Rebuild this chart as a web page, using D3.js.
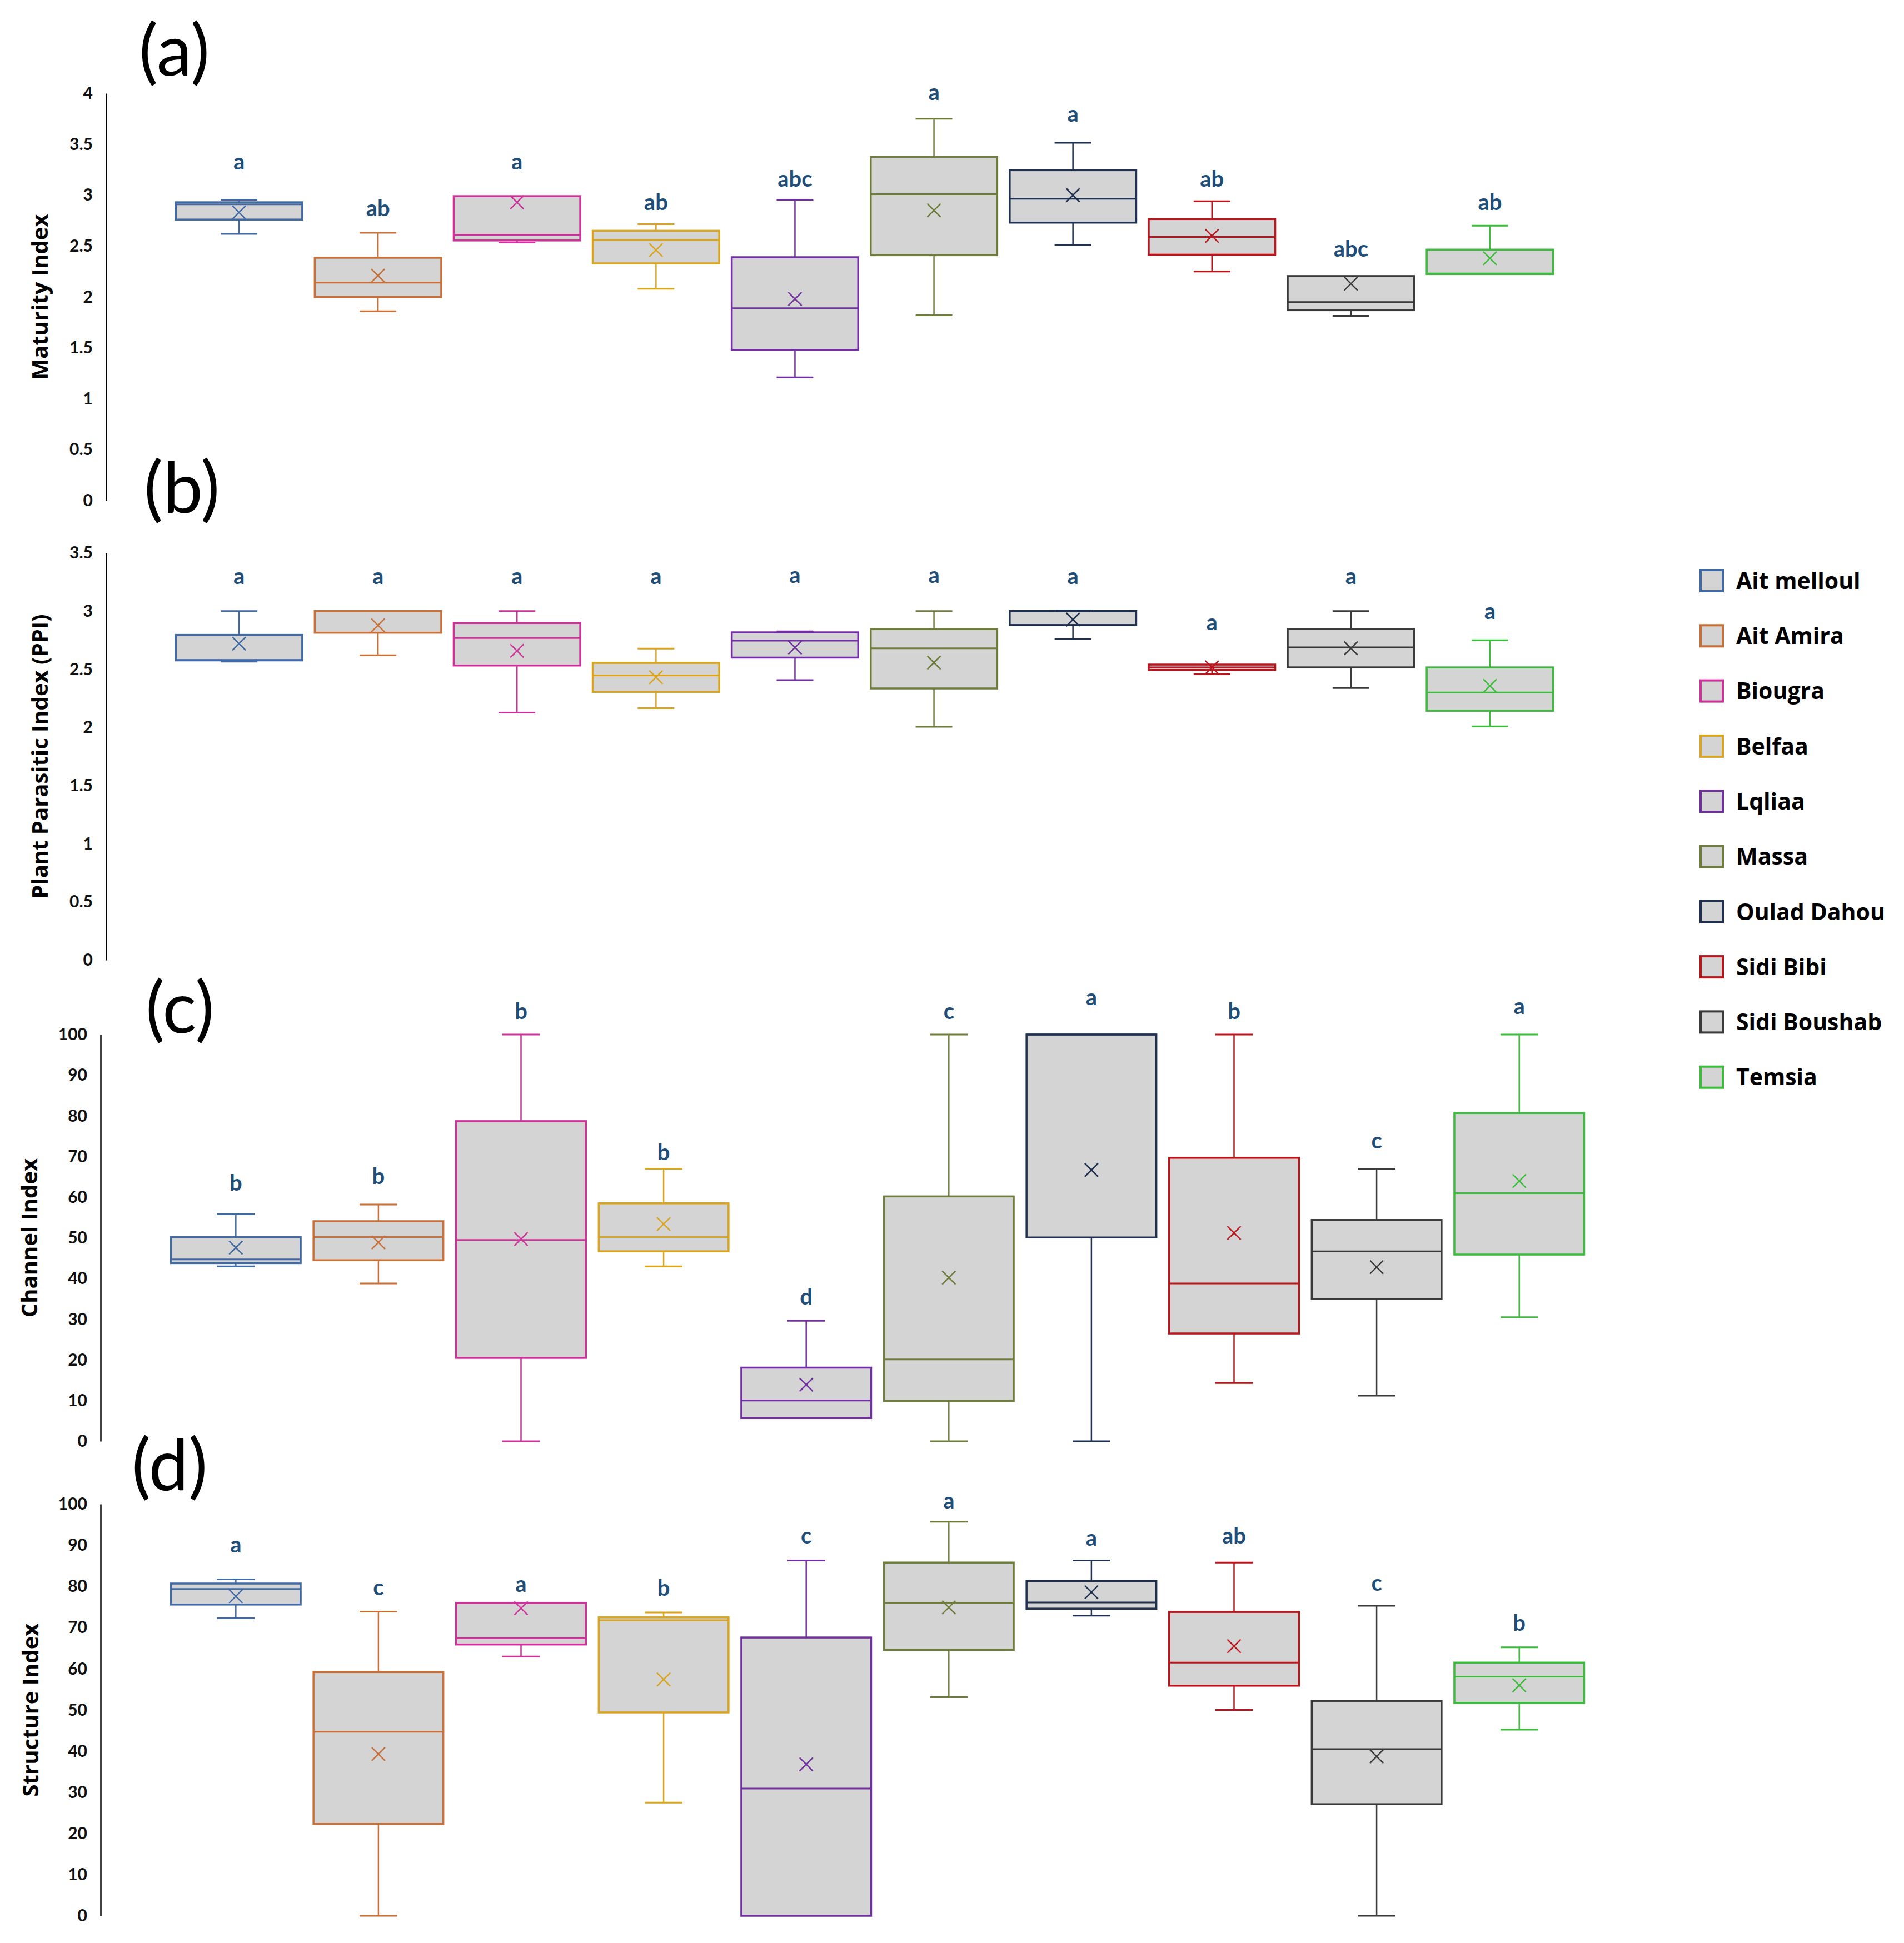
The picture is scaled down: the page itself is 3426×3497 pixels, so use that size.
<!DOCTYPE html>
<html>
<head>
<meta charset="utf-8">
<script src="https://cdn.jsdelivr.net/npm/d3@7"></script>
<style>
	body{margin:0;background:#fff;}
</style>
</head>
<body>
<svg id="chart"></svg>
<script>
const sites = ['Ait melloul','Ait Amira','Biougra','Belfaa','Lqliaa','Massa','Oulad Dahou','Sidi Bibi','Sidi Boushab','Temsia'];
const siteColors = ['#4169a3','#c8703a','#cc3399','#d9a521','#7030a0','#6f7d3c','#1f3050','#b8161c','#3a3a3a','#3cbb3c'];

const maturityTicks = [0,0.5,1,1.5,2,2.5,3,3.5,4];
const ppiTicks = [0,0.5,1,1.5,2,2.5,3,3.5];
const percentTicks = [0,10,20,30,40,50,60,70,80,90,100];

// each row: [min, q1, median, q3, max]
const maturityBox = [
	[2.62,2.76,2.91,2.93,2.955],
	[1.86,2.00,2.14,2.385,2.63],
	[2.535,2.555,2.61,2.99,2.99],
	[2.08,2.33,2.56,2.65,2.715],
	[1.21,1.48,1.89,2.39,2.955],
	[1.82,2.41,3.01,3.375,3.75],
	[2.51,2.73,2.965,3.245,3.515],
	[2.25,2.415,2.59,2.765,2.94],
	[1.815,1.87,1.95,2.205,2.205],
	[2.225,2.225,2.23,2.465,2.70]
];
const maturityMean = [2.83,2.21,2.93,2.46,1.98,2.85,3.00,2.60,2.13,2.38];
const maturityLetters = ['a','ab','a','ab','abc','a','a','ab','abc','ab'];
const maturityLetterAt = [3.33,2.87,3.33,2.93,3.16,4.01,3.80,3.16,2.47,2.93];

const ppiBox = [
	[2.565,2.576,2.58,2.795,3.0],
	[2.62,2.814,3.0,3.0,3.0],
	[2.127,2.532,2.768,2.897,3.0],
	[2.165,2.305,2.447,2.554,2.677],
	[2.406,2.60,2.746,2.817,2.825],
	[2.006,2.335,2.68,2.845,3.0],
	[2.757,2.88,3.0,3.0,3.006],
	[2.458,2.494,2.516,2.54,2.54],
	[2.338,2.516,2.688,2.845,3.0],
	[2.009,2.143,2.30,2.516,2.749]
];
const ppiMean = [2.72,2.877,2.658,2.431,2.686,2.557,2.927,2.516,2.68,2.357];
const ppiLetters = ['a','a','a','a','a','a','a','a','a','a'];
const ppiLetterAt = [3.30,3.30,3.30,3.30,3.31,3.31,3.30,2.905,3.30,3.0];

const channelBox = [
	[43.0,43.8,44.7,50.2,55.8],
	[38.8,44.5,50.2,54.1,58.2],
	[0,20.5,49.5,78.7,100],
	[43.0,46.7,50.2,58.5,67.0],
	[5.7,5.7,10.0,18.1,29.6],
	[0,9.9,20.1,60.2,100],
	[0,50.1,100,100,100],
	[14.3,26.5,38.8,69.7,100],
	[11.2,35.0,46.7,54.4,67.0],
	[30.5,45.9,61.0,80.7,100]
];
const channelMean = [47.6,48.9,49.7,53.4,13.9,40.2,66.7,51.2,42.8,64.0];
const channelLetters = ['b','b','b','b','d','c','a','b','c','a'];
const channelLetterAt = [63.5,65.2,105.8,71.0,35.5,105.8,109.1,105.8,73.9,106.9];

const structureBox = [
	[72.3,75.6,79.4,80.7,81.7],
	[0,22.3,44.7,59.2,73.9],
	[63.0,65.9,67.4,76.0,76.0],
	[27.5,49.4,71.8,72.5,73.7],
	[0,0,30.9,67.6,86.3],
	[53.1,64.6,76.0,85.8,95.7],
	[72.9,74.6,76.1,81.3,86.3],
	[50.0,55.9,61.5,73.8,85.8],
	[0,27.1,40.5,52.2,75.3],
	[45.2,51.7,58.1,61.5,65.2]
];
const structureMean = [77.6,39.3,74.7,57.4,36.8,74.9,78.6,65.5,38.7,56.0];
const structureLetters = ['a','c','a','b','c','a','a','ab','c','b'];
const structureLetterAt = [90.2,79.8,80.6,79.6,92.3,100.8,91.8,92.3,80.8,71.1];

const width = 3426,
	height = 3497,
	boxFill = '#d4d4d4',
	letterColor = '#1f4e79';

const svg = d3.select('#chart')
	.attr('width', width)
	.attr('height', height)
	.style('font-family', 'Lato, "Open Sans", sans-serif');

// panel layout (pixels), values come from the arrays above
const panels = [
	{tag:'(a)', tagX:250, tagY:136, title:'Maturity Index', titleX:72, axisX:191,
		yRange:[901,168], domain:[0,4], ticks:maturityTicks, xRange:[305,2806],
		box:maturityBox, mean:maturityMean, letters:maturityLetters, letterAt:maturityLetterAt},
	{tag:'(b)', tagX:259, tagY:923, title:'Plant Parasitic Index (PPI)', titleX:72, axisX:191,
		yRange:[1728,995], domain:[0,3.5], ticks:ppiTicks, xRange:[305,2806],
		box:ppiBox, mean:ppiMean, letters:ppiLetters, letterAt:ppiLetterAt},
	{tag:'(c)', tagX:262, tagY:1859, title:'Channel Index', titleX:53, axisX:181,
		yRange:[2594,1862], domain:[0,100], ticks:percentTicks, xRange:[296,2862],
		box:channelBox, mean:channelMean, letters:channelLetters, letterAt:channelLetterAt},
	{tag:'(d)', tagX:237, tagY:2682, title:'Structure Index', titleX:55, axisX:181,
		yRange:[3448,2707], domain:[0,100], ticks:percentTicks, xRange:[296,2862],
		box:structureBox, mean:structureMean, letters:structureLetters, letterAt:structureLetterAt}
];

function drawPanel(p){
	const y = d3.scaleLinear().domain(p.domain).range(p.yRange);
	const x = d3.scaleBand().domain(sites).range(p.xRange).paddingInner(0.09).paddingOuter(0.045);
	const color = d3.scaleOrdinal().domain(sites).range(siteColors);

	const g = svg.append('g');

	// panel tag
	g.append('text')
		.attr('x', p.tagX)
		.attr('y', p.tagY)
		.style('font-size', '128px')
		.style('font-weight', 400)
		.text(p.tag);

	// y axis, line only with labels
	const axis = g.append('g')
		.attr('transform', `translate(${p.axisX},0)`)
		.call(d3.axisLeft(y).tickValues(p.ticks).tickSize(0).tickSizeOuter(0).tickPadding(24).tickFormat(d => String(d)));
	axis.select('.domain').attr('stroke', '#000').attr('stroke-width', 2.5);
	axis.selectAll('text')
		.style('font-family', 'Lato, sans-serif')
		.style('font-size', '30px')
		.style('font-weight', 700)
		.attr('fill', '#111');

	// axis title
	const midY = (p.yRange[0] + p.yRange[1]) / 2;
	g.append('text')
		.attr('transform', `translate(${p.titleX},${midY}) rotate(-90)`)
		.attr('text-anchor', 'middle')
		.attr('dy', '0.35em')
		.style('font-family', '"Open Sans", sans-serif')
		.style('font-size', '40px')
		.style('font-weight', 700)
		.text(p.title);

	const rows = sites.map((s, i) => ({
		site: s,
		min: p.box[i][0], q1: p.box[i][1], med: p.box[i][2], q3: p.box[i][3], max: p.box[i][4],
		mean: p.mean[i], letter: p.letters[i], letterAt: p.letterAt[i]
	}));

	const bw = x.bandwidth(),
		capW = bw * 0.29;

	const boxes = g.selectAll('.site')
		.data(rows)
		.enter()
		.append('g')
		.attr('class', 'site')
		.attr('transform', d => `translate(${x(d.site) + bw / 2},0)`);

	// whiskers
	boxes.append('line')
		.attr('y1', d => y(d.max)).attr('y2', d => y(d.q3))
		.attr('stroke', d => color(d.site)).attr('stroke-width', 2.5);
	boxes.append('line')
		.attr('y1', d => y(d.q1)).attr('y2', d => y(d.min))
		.attr('stroke', d => color(d.site)).attr('stroke-width', 2.5);
	boxes.filter(d => d.max > d.q3).append('line')
		.attr('x1', -capW / 2).attr('x2', capW / 2)
		.attr('y1', d => y(d.max)).attr('y2', d => y(d.max))
		.attr('stroke', d => color(d.site)).attr('stroke-width', 3);
	boxes.filter(d => d.min < d.q1).append('line')
		.attr('x1', -capW / 2).attr('x2', capW / 2)
		.attr('y1', d => y(d.min)).attr('y2', d => y(d.min))
		.attr('stroke', d => color(d.site)).attr('stroke-width', 3);

	// box
	boxes.append('rect')
		.attr('x', -bw / 2)
		.attr('width', bw)
		.attr('y', d => y(d.q3))
		.attr('height', d => Math.max(1, y(d.q1) - y(d.q3)))
		.attr('fill', boxFill)
		.attr('stroke', d => color(d.site))
		.attr('stroke-width', 3.5);

	// median
	boxes.append('line')
		.attr('x1', -bw / 2).attr('x2', bw / 2)
		.attr('y1', d => y(d.med)).attr('y2', d => y(d.med))
		.attr('stroke', d => color(d.site)).attr('stroke-width', 3);

	// mean marker
	const m = 12;
	boxes.append('path')
		.attr('d', d => `M${-m},${y(d.mean) - m}L${m},${y(d.mean) + m}M${m},${y(d.mean) - m}L${-m},${y(d.mean) + m}`)
		.attr('stroke', d => color(d.site)).attr('stroke-width', 2.5).attr('fill', 'none');

	// significance letters
	boxes.append('text')
		.attr('y', d => y(d.letterAt))
		.attr('dy', '0.35em')
		.attr('text-anchor', 'middle')
		.style('font-size', '40px')
		.style('font-weight', 700)
		.attr('fill', letterColor)
		.text(d => d.letter);
}

panels.forEach(drawPanel);

// legend
const legend = svg.append('g').attr('transform', 'translate(3060,1045)');
const items = legend.selectAll('g')
	.data(sites)
	.enter()
	.append('g')
	.attr('transform', (d, i) => `translate(0,${i * 99.3})`);
items.append('rect')
	.attr('x', 0).attr('y', -19)
	.attr('width', 40).attr('height', 38)
	.attr('fill', boxFill)
	.attr('stroke', (d, i) => siteColors[i])
	.attr('stroke-width', 4);
items.append('text')
	.attr('x', 64)
	.attr('dy', '0.36em')
	.style('font-family', '"Open Sans", sans-serif')
	.style('font-size', '41px')
	.style('font-weight', 700)
	.text(d => d);
</script>
</body>
</html>
